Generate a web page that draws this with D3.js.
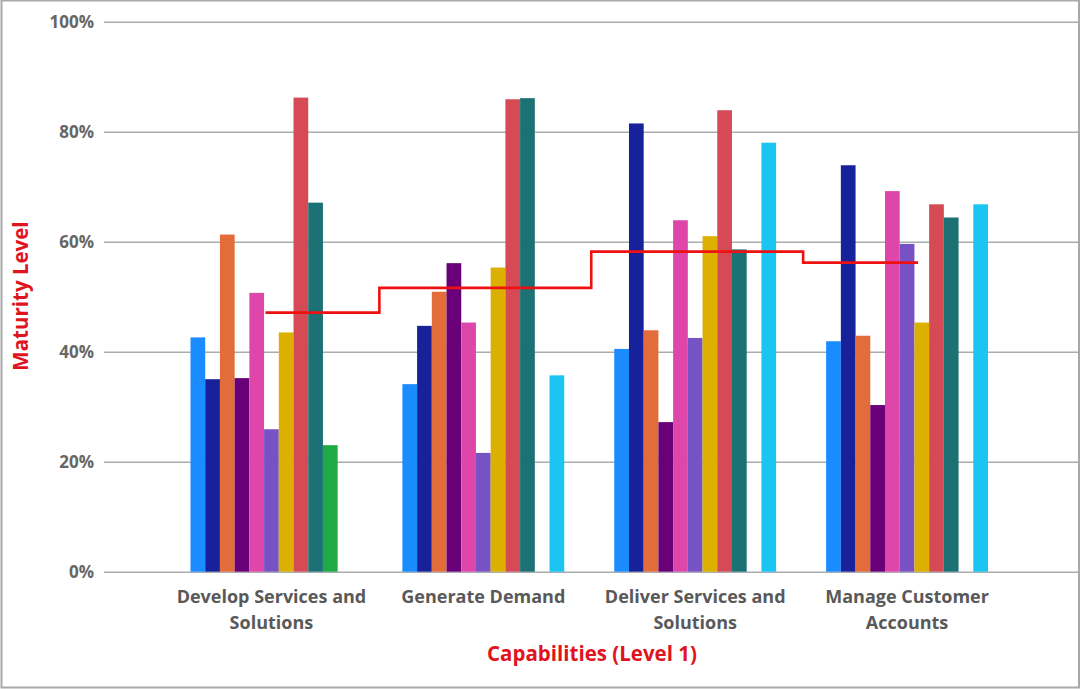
<!DOCTYPE html>
<html>
<head>
<meta charset="utf-8">
<script src="https://cdn.jsdelivr.net/npm/d3@7"></script>
<style>
  html, body { margin: 0; padding: 0; background: #fff; }
  svg { display: block; }
  text { font-family: "Open Sans", "Noto Sans", sans-serif; }
</style>
</head>
<body>
<svg id="chart" width="1080" height="689"></svg>
<script>
// Capability groups on the x axis
const categories = [
  "Develop Services and|Solutions",
  "Generate Demand",
  "Deliver Services and|Solutions",
  "Manage Customer|Accounts"
];

// One entry per bar slot within each group (null = no bar)
const seriesNames = ["A", "B", "C", "D", "E", "F", "G", "H", "I", "J", "K"];
const seriesColors = ["#1a8cff", "#17229a", "#e36d3a", "#6a0078", "#de47a9",
                      "#7752c4", "#dbb000", "#d64a56", "#1c7174", "#1faa46", "#1bc5f2"];

// Maturity level (%) per series, one value per capability group
const seriesValues = [
  [42.6, 34.1, 40.5, 41.9],
  [35.0, 44.7, 81.5, 73.9],
  [61.3, 50.9, 43.9, 42.9],
  [35.2, 56.1, 27.2, 30.3],
  [50.7, 45.3, 63.9, 69.2],
  [25.9, 21.6, 42.5, 59.6],
  [43.5, 55.3, 61.0, 45.3],
  [86.2, 85.9, 83.9, 66.8],
  [67.1, 86.1, 58.6, 64.4],
  [23.0, null, null, null],
  [null, 35.7, 78.0, 66.8]
];

// Average maturity per capability group (step line)
const averageValues = [47.1, 51.6, 58.2, 56.2];

const yTicks = [0, 20, 40, 60, 80, 100];

const svg = d3.select("#chart");
const W = 1080, H = 689;

// Outer frame
svg.append("rect")
  .attr("x", 1.5).attr("y", 0.5).attr("width", W - 2.5).attr("height", H - 2)
  .attr("fill", "#fff").attr("stroke", "#a8a8a8").attr("stroke-width", 2);

const gridLeft = 104, gridRight = 1078;
const y = d3.scaleLinear().domain([0, 100]).range([571.7, 21.7]);

const x0 = d3.scaleBand()
  .domain(categories)
  .range([190.5, 988])
  .paddingInner(0.236)
  .paddingOuter(0);

const x1 = d3.scaleBand()
  .domain(seriesNames)
  .range([0, x0.bandwidth()])
  .padding(0);

// Horizontal gridlines and tick labels
const yAxis = d3.axisLeft(y)
  .tickValues(yTicks)
  .tickSize(-(gridRight - gridLeft))
  .tickPadding(10)
  .tickFormat(d => d + "%");

const gy = svg.append("g")
  .attr("transform", `translate(${gridLeft},0)`)
  .call(yAxis);
gy.select(".domain").remove();
gy.selectAll(".tick line")
  .attr("stroke", "#a9acb1")
  .attr("stroke-width", 1.6);
gy.selectAll(".tick text")
  .attr("fill", "#666")
  .attr("font-size", 17)
  .attr("font-weight", 700);

// Bars
const groups = svg.append("g")
  .selectAll("g")
  .data(categories)
  .join("g")
  .attr("transform", c => `translate(${x0(c)},0)`);

groups.selectAll("rect")
  .data((c, ci) => seriesNames.map((s, si) => ({ s, si, v: seriesValues[si][ci] }))
    .filter(d => d.v != null))
  .join("rect")
  .attr("x", d => x1(d.s))
  .attr("width", x1.bandwidth())
  .attr("y", d => y(d.v))
  .attr("height", d => y(0) - y(d.v))
  .attr("fill", d => seriesColors[d.si]);

// Average step line: steps between group centres, with short lead-in / lead-out
const centre = i => x0(categories[i]) + x0.bandwidth() / 2 + 2;
const leadIn = 8, leadOut = 9;
const stepPoints = averageValues.map((v, i) => [centre(i), y(v)]);
stepPoints.unshift([centre(0) - leadIn, y(averageValues[0])]);
stepPoints.push([centre(averageValues.length - 1) + leadOut, y(averageValues[averageValues.length - 1])]);

svg.append("path")
  .datum(stepPoints)
  .attr("d", d3.line().curve(d3.curveStep))
  .attr("fill", "none")
  .attr("stroke", "#ee1111")
  .attr("stroke-width", 2.6);

// Category labels (two lines where needed)
const xLabels = svg.append("g");
categories.forEach(c => {
  const t = xLabels.append("text")
    .attr("x", x0(c) + x0.bandwidth() / 2)
    .attr("y", 603)
    .attr("text-anchor", "middle")
    .attr("fill", "#595959")
    .attr("font-size", 18)
    .attr("font-weight", 700);
  c.split("|").forEach((part, i) => {
    t.append("tspan")
      .attr("x", x0(c) + x0.bandwidth() / 2)
      .attr("dy", i === 0 ? 0 : 26)
      .text(part);
  });
});

// Axis titles
svg.append("text")
  .attr("x", 592).attr("y", 661)
  .attr("text-anchor", "middle")
  .attr("fill", "#e0141e")
  .attr("font-size", 20.5)
  .attr("font-weight", 700)
  .text("Capabilities (Level 1)");

svg.append("text")
  .attr("transform", "translate(28,296) rotate(-90)")
  .attr("text-anchor", "middle")
  .attr("fill", "#e0141e")
  .attr("font-size", 20.5)
  .attr("font-weight", 700)
  .text("Maturity Level");
</script>
</body>
</html>
